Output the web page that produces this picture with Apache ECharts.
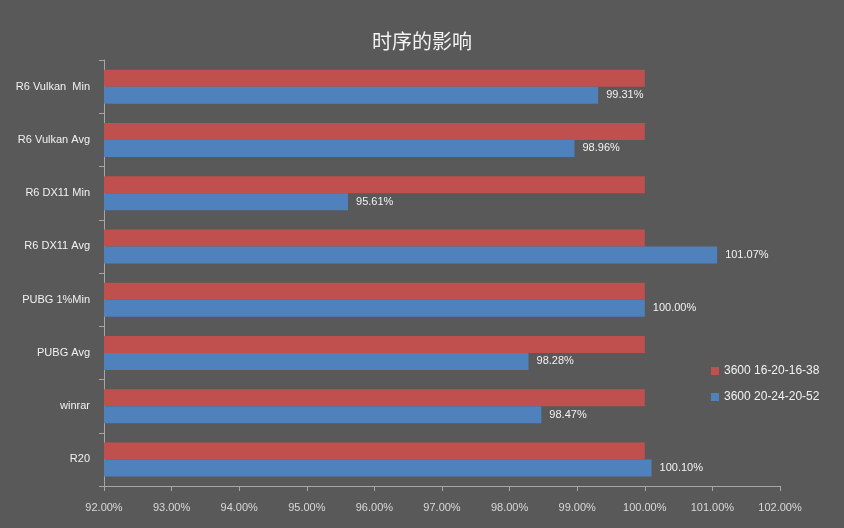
<!DOCTYPE html>
<html>
<head>
<meta charset="utf-8">
<script src="https://cdn.jsdelivr.net/npm/echarts@6/dist/echarts.min.js"></script>
<style>
  html, body { margin: 0; padding: 0; background: #595959; }
  #chart { width: 844px; height: 528px; }
</style>
</head>
<body>
<div id="chart"></div>
<script>
// categories listed bottom to top (category axis starts at the bottom)
var categories = ['R20', 'winrar', 'PUBG Avg', 'PUBG 1%Min', 'R6 DX11 Avg', 'R6 DX11 Min', 'R6 Vulkan Avg', 'R6 Vulkan  Min'];
var seriesNames = ['3600 16-20-16-38', '3600 20-24-20-52'];
var baseValues = [100, 100, 100, 100, 100, 100, 100, 100];
var newValues = [100.10, 98.47, 98.28, 100.00, 101.07, 95.61, 98.96, 99.31];

var chart = echarts.init(document.getElementById('chart'));

var option = {
    backgroundColor: '#595959',
    animation: false,
    title: {
        text: '时序的影响',
        left: 'center',
        top: 26,
        textStyle: {
            color: '#f2f2f2',
            fontSize: 20,
            fontWeight: 'normal',
            fontFamily: 'Noto Sans CJK SC'
        }
    },
    legend: {
        orient: 'vertical',
        left: 706,
        top: 360,
        itemWidth: 8,
        itemHeight: 8,
        itemGap: 14,
        icon: 'rect',
        data: seriesNames,
        textStyle: { color: '#f2f2f2', fontSize: 12, fontFamily: 'Liberation Sans' }
    },
    grid: {
        left: 104,
        right: 64,
        top: 60,
        bottom: 42
    },
    xAxis: {
        type: 'value',
        min: 92,
        max: 102,
        interval: 1,
        axisLine: { show: true, lineStyle: { color: '#a6a6a6' } },
        axisTick: { show: true, length: 5, lineStyle: { color: '#a6a6a6' } },
        splitLine: { show: false },
        axisLabel: {
            color: '#d9d9d9',
            fontSize: 11,
            margin: 16,
            fontFamily: 'Liberation Sans',
            formatter: function (v) { return v.toFixed(2) + '%'; }
        }
    },
    yAxis: {
        type: 'category',
        data: categories,
        axisLine: { show: true, lineStyle: { color: '#a6a6a6' } },
        axisTick: { show: true, length: 5, lineStyle: { color: '#a6a6a6' } },
        axisLabel: {
            color: '#f2f2f2',
            fontSize: 11,
            margin: 14,
            fontFamily: 'Liberation Sans'
        }
    },
    series: [
        {
            name: seriesNames[0],
            type: 'bar',
            data: baseValues,
            barWidth: 17,
            barGap: '0%',
            itemStyle: { color: '#c0504d' }
        },
        {
            name: seriesNames[1],
            type: 'bar',
            data: newValues,
            barWidth: 17,
            barGap: '0%',
            itemStyle: { color: '#4f81bd' },
            label: {
                show: true,
                position: 'right',
                distance: 8,
                color: '#f2f2f2',
                fontSize: 11,
                fontFamily: 'Liberation Sans',
                formatter: function (p) { return p.value.toFixed(2) + '%'; }
            }
        }
    ]
};
chart.setOption(option);
</script>
</body>
</html>
